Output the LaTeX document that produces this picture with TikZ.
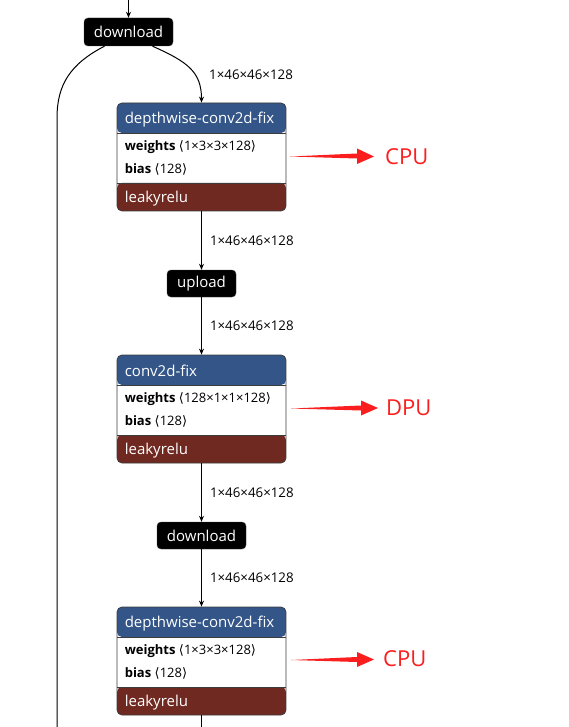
\documentclass[tikz,border=0pt]{standalone}
\usepackage{fontspec}
\setmainfont{Open Sans}
\newfontfamily\brkfont{DejaVu Sans}
\usetikzlibrary{arrows.meta}

\definecolor{layerblue}{RGB}{51,85,136}
\definecolor{actred}{RGB}{112,41,33}
\definecolor{boxline}{RGB}{60,60,60}
\definecolor{cpured}{RGB}{250,30,30}

\newcommand{\lb}{{\brkfont\char"27E8}}
\newcommand{\rb}{{\brkfont\char"27E9}}

\tikzset{
	edge/.style={-{Stealth[length=6pt,width=5pt]},line width=1pt},
	ctrl/.style={fill=black,draw=boxline,rounded corners=4pt,text=white,
		minimum width=89pt,minimum height=28pt,inner sep=0pt,font=\fontsize{15}{17}\selectfont},
	layer/.style={draw=boxline,line width=0.8pt,rounded corners=5pt,fill=white,
		minimum width=169pt,minimum height=108pt,inner sep=0pt,
		path picture={
			\fill[layerblue] (path picture bounding box.north west) rectangle ([yshift=-30pt]path picture bounding box.north east);
			\fill[actred] ([yshift=28pt]path picture bounding box.south west) rectangle (path picture bounding box.south east);
			\draw[boxline,line width=0.8pt] ([yshift=-30pt]path picture bounding box.north west) -- ([yshift=-30pt]path picture bounding box.north east);
			\draw[boxline,line width=0.8pt] ([yshift=28pt]path picture bounding box.south west) -- ([yshift=28pt]path picture bounding box.south east);
		}},
	title/.style={anchor=west,text=white,inner sep=0pt,font=\fontsize{15}{17}\selectfont},
	attr/.style={anchor=west,inner sep=0pt,font=\fontsize{13}{15}\selectfont},
	dims/.style={anchor=west,inner sep=0pt,font=\fontsize{13.3}{15}\selectfont},
	dev/.style={anchor=west,text=cpured,inner sep=0pt,font=\fontsize{22}{26}\selectfont},
}

\begin{document}
\begin{tikzpicture}[x=1pt,y=1pt]
\useasboundingbox (0,0) rectangle (568,-727);

% Controls
\node[ctrl] (down1) at (128.5,-32) {\raisebox{-1.5pt}{download}};
\node[ctrl, minimum width=69pt, minimum height=27pt] (up1) at (201.5,-283.5) {\raisebox{-1.5pt}{upload}};
\node[ctrl, minimum height=27pt] (down2) at (201.5,-535.5) {\raisebox{-1.5pt}{download}};

% Layers
\node[layer] (conv1) at (201.5,-157) {};
\node[title] (conv1t) at ([xshift=8pt,yshift=-16.5pt]conv1.north west) {depthwise-conv2d-fix};
\node[attr] (conv1w) at ([xshift=8pt,yshift=-45pt]conv1.north west) {\textbf{weights} \lb1×3×3×128\rb};
\node[attr] (conv1b) at ([xshift=8pt,yshift=-67pt]conv1.north west) {\textbf{bias} \lb128\rb};
\node[title] (conv1a) at ([xshift=8pt,yshift=13pt]conv1.south west) {leakyrelu};

\node[layer] (conv2) at (201.5,-409) {};
\node[title] (conv2t) at ([xshift=8pt,yshift=-16.5pt]conv2.north west) {conv2d-fix};
\node[attr] (conv2w) at ([xshift=8pt,yshift=-45pt]conv2.north west) {\textbf{weights} \lb128×1×1×128\rb};
\node[attr] (conv2b) at ([xshift=8pt,yshift=-67pt]conv2.north west) {\textbf{bias} \lb128\rb};
\node[title] (conv2a) at ([xshift=8pt,yshift=13pt]conv2.south west) {leakyrelu};

\node[layer] (conv3) at (201.5,-661) {};
\node[title] (conv3t) at ([xshift=8pt,yshift=-16.5pt]conv3.north west) {depthwise-conv2d-fix};
\node[attr] (conv3w) at ([xshift=8pt,yshift=-45pt]conv3.north west) {\textbf{weights} \lb1×3×3×128\rb};
\node[attr] (conv3b) at ([xshift=8pt,yshift=-67pt]conv3.north west) {\textbf{bias} \lb128\rb};
\node[title] (conv3a) at ([xshift=8pt,yshift=13pt]conv3.south west) {leakyrelu};

% Edges
\coordinate (in) at (128.5,0);
\coordinate (skip) at (57,-727);
\coordinate (out) at (201.5,-727);
\draw[edge] (in) -- (down1.north);
\draw[line width=1pt] ([xshift=-24pt]down1.south) .. controls (70,-64) and (57,-85) .. (57,-118) -- (skip);
\draw[edge] ([xshift=24pt]down1.south) .. controls (188,-62) and (201.5,-72) .. (conv1.north);
\node[dims] (s1) at (209,-75) {1×46×46×128};
\draw[edge] (conv1.south) -- (up1.north) node[dims,midway,xshift=8pt] (s2) {1×46×46×128};
\draw[edge] (up1.south) -- (conv2.north) node[dims,midway,xshift=8pt] (s3) {1×46×46×128};
\draw[edge] (conv2.south) -- (down2.north) node[dims,midway,xshift=8pt] (s4) {1×46×46×128};
\draw[edge] (down2.south) -- (conv3.north) node[dims,midway,xshift=8pt] (s5) {1×46×46×128};
\draw[line width=1pt] (conv3.south) -- (out);

% Devices
\node[dev] (dev1) at (385,-157) {CPU};
\node[dev] (dev2) at (386,-408) {DPU};
\node[dev] (dev3) at (383,-659) {CPU};
\fill[cpured] (290,-156.5) -- (357,-153.5) -- (357,-148.5) -- (374,-156.5) -- (357,-164) -- (357,-158.5) -- cycle;
\fill[cpured] (291,-408.5) -- (361,-405.5) -- (361,-400.5) -- (378,-408) -- (361,-415.5) -- (361,-410.5) -- cycle;
\fill[cpured] (291,-660) -- (357,-657) -- (357,-652) -- (374,-659.5) -- (357,-667) -- (357,-662) -- cycle;
\end{tikzpicture}
\end{document}
